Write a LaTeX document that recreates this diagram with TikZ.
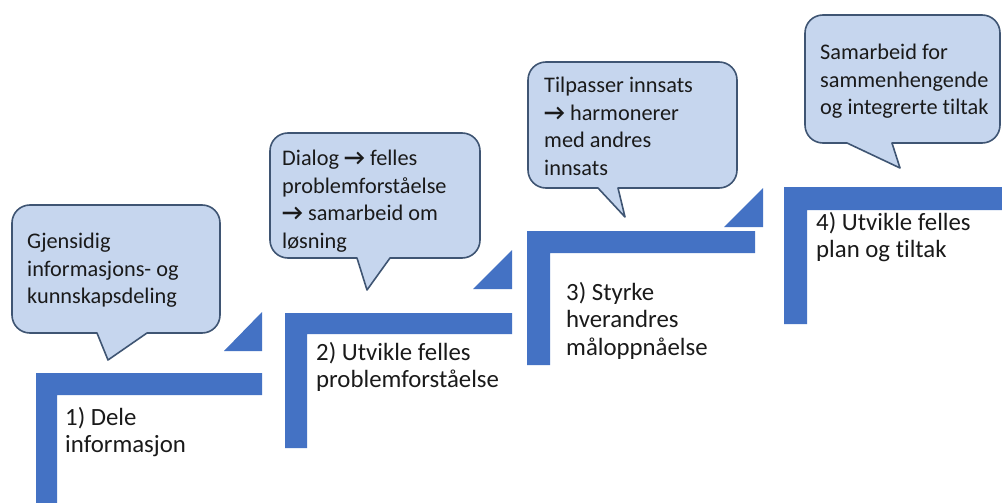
\documentclass[tikz,border=0pt]{standalone}
\usepackage{fontspec}
\setmainfont{Carlito}[Ligatures={NoCommon}]
\newfontfamily\arrowfont{Carlito}
\definecolor{barblue}{HTML}{4472C4}
\definecolor{bubfill}{HTML}{C6D6EE}
\definecolor{bubline}{HTML}{3F5573}
\definecolor{txt}{HTML}{1A1A1A}
\newcommand\arr{{\arrowfont\bfseries\fontsize{23}{27}\selectfont →}}
% L T R B a tx ty c
\newcommand\speechbubble[8]{%
  \path[bubblestyle] (#5,#4) -- ({#1+18},#4) .. controls ({#1+8},#4) and (#1,{#4-8}) .. (#1,{#4-18})
   -- (#1,{#2+18}) .. controls (#1,{#2+8}) and ({#1+8},#2) .. ({#1+18},#2)
   -- ({#3-18},#2) .. controls ({#3-8},#2) and (#3,{#2+8}) .. (#3,{#2+18})
   -- (#3,{#4-18}) .. controls (#3,{#4-8}) and ({#3-8},#4) .. ({#3-18},#4)
   -- (#8,#4) -- (#6,#7) -- cycle;}
\tikzset{
  bubblestyle/.style={fill=bubfill, draw=bubline, line width=1.6pt, line join=round},
  barstyle/.style={fill=barblue, draw=none},
  bubtext/.style={anchor=north west, inner sep=0pt, align=left, text=txt, font=\fontsize{22.3}{27.5}\selectfont},
  steptext/.style={anchor=north west, inner sep=0pt, align=left, text=txt, font=\fontsize{24.8}{27.5}\selectfont},
}
\begin{document}
\begin{tikzpicture}[x=1pt,y=-1pt]
\useasboundingbox (0,0) rectangle (1002,503);
\fill[white] (0,0) rectangle (1002,503);
% stairs
\fill[barstyle] (36,503) -- (36,373) -- (262,373) -- (262,395) -- (57,395) -- (57,503) -- cycle;
\fill[barstyle] (224,351) -- (262,351) -- (262,312) -- cycle;
\fill[barstyle] (285,448) -- (285,313) -- (512,313) -- (512,334) -- (307,334) -- (307,448) -- cycle;
\fill[barstyle] (473,289) -- (512,289) -- (512,250) -- cycle;
\fill[barstyle] (527,365) -- (527,231) -- (755,231) -- (755,253) -- (550,253) -- (550,365) -- cycle;
\fill[barstyle] (724,227) -- (763,227) -- (763,188) -- cycle;
\fill[barstyle] (784,324) -- (784,187) -- (1002,187) -- (1002,210) -- (807,210) -- (807,324) -- cycle;
% bubbles
\speechbubble{12}{205}{220}{333}{97}{108}{360}{147}
\speechbubble{270}{133}{480}{258}{357}{367}{290}{390}
\speechbubble{528}{62}{737}{188}{598}{625}{217}{618}
\speechbubble{805}{15}{1000}{143}{847}{900}{168}{892}
% bubble texts
\node[bubtext] (b1) at (27,233) {Gjensidig\\informasjons- og\\kunnskapsdeling};
\node[bubtext] (b2) at (282,150) {Dialog \arr{} felles\\problemforståelse\\\arr{} samarbeid om\\løsning};
\node[bubtext] (b3) at (544,77) {Tilpasser innsats\\\arr{} harmonerer\\med andres\\innsats};
\node[bubtext] (b4) at (820,44) {Samarbeid for\\sammenhengende\\og integrerte tiltak};
% step texts
\node[steptext] (s1) at (65,407) {1) Dele\\informasjon};
\node[steptext] (s2) at (316,342) {2) Utvikle felles\\problemforståelse};
\node[steptext] (s3) at (566,282) {3) Styrke\\hverandres\\måloppnåelse};
\node[steptext] (s4) at (816,212) {4) Utvikle felles\\plan og tiltak};
\end{tikzpicture}
\end{document}
